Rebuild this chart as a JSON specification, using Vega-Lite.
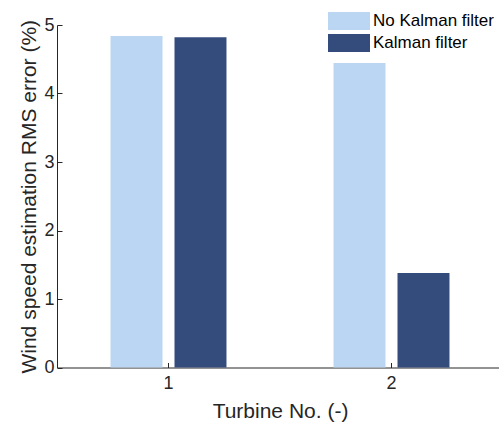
{
  "$schema": "https://vega.github.io/schema/vega-lite/v6.json",
  "autosize": "none",
  "width": 446,
  "height": 342.5,
  "padding": {"left": 57, "top": 25, "right": 0, "bottom": 60},
  "background": "white",
  "data": {
    "values": [
      {"turbine": "1", "series": "No Kalman filter", "value": 4.84},
      {"turbine": "1", "series": "Kalman filter", "value": 4.82},
      {"turbine": "2", "series": "No Kalman filter", "value": 4.445},
      {"turbine": "2", "series": "Kalman filter", "value": 1.38}
    ]
  },
  "mark": {"type": "bar"},
  "encoding": {
    "x": {
      "field": "turbine",
      "type": "nominal",
      "scale": {"paddingInner": 0.48, "paddingOuter": 0.24},
      "axis": {"labelAngle": 0, "title": "Turbine No. (-)", "labelPadding": 12, "titlePadding": 8}
    },
    "xOffset": {
      "field": "series",
      "type": "nominal",
      "scale": {"domain": ["No Kalman filter", "Kalman filter"], "paddingInner": 0.1875, "paddingOuter": 0}
    },
    "y": {
      "field": "value",
      "type": "quantitative",
      "scale": {"domain": [0, 5], "nice": false},
      "axis": {"values": [0, 1, 2, 3, 4, 5], "grid": false, "title": "Wind speed estimation RMS error (%)", "labelPadding": 8, "titlePadding": 4}
    },
    "color": {
      "field": "series",
      "type": "nominal",
      "scale": {"domain": ["No Kalman filter", "Kalman filter"], "range": ["#BBD6F2", "#344C7C"]},
      "legend": {
        "title": null,
        "orient": "none",
        "legendX": 271,
        "legendY": -13,
        "symbolType": "M-1,-0.4286H1V0.4286H-1Z",
        "symbolSize": 1764,
        "symbolStrokeWidth": 0,
        "clipHeight": 18,
        "rowPadding": 4,
        "labelOffset": 3,
        "labelFont": "Liberation Sans",
        "labelFontSize": 17,
        "labelColor": "#000000",
        "padding": 0
      }
    }
  },
  "config": {
    "view": {"stroke": null},
    "axis": {
      "domainColor": "#262626",
      "domainWidth": 1,
      "tickColor": "#262626",
      "tickSize": -5,
      "labelColor": "#262626",
      "titleColor": "#262626",
      "labelFont": "Liberation Sans",
      "titleFont": "Liberation Sans",
      "labelFontSize": 18,
      "titleFontSize": 21,
      "titleFontWeight": "normal"
    },
    "legend": {"symbolOpacity": 1}
  }
}
